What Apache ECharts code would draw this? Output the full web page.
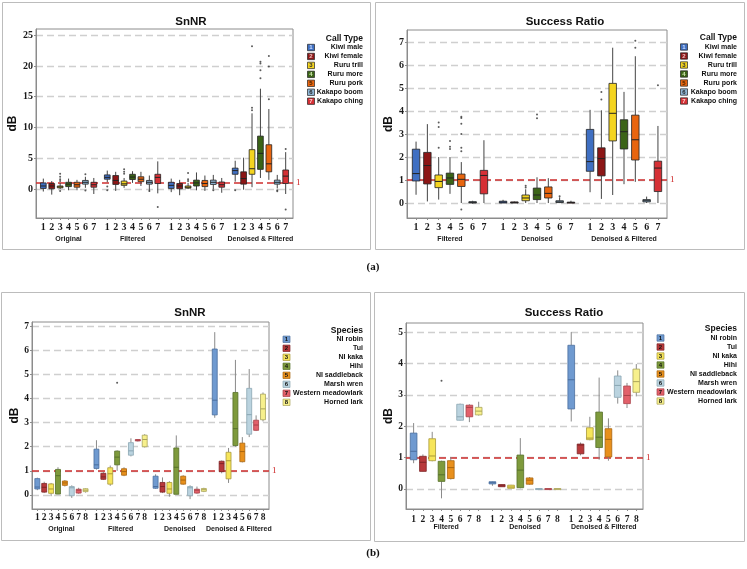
<!DOCTYPE html>
<html><head><meta charset="utf-8">
<script src="https://cdn.jsdelivr.net/npm/echarts@6/dist/echarts.min.js"></script>
<style>html,body{margin:0;padding:0;background:#fff}#c{width:747px;height:569px}</style>
</head><body><div id="c"></div>
<script>
// ---------- categories ----------
const callTypes = ['Kiwi male','Kiwi female','Ruru trill','Ruru more','Ruru pork','Kakapo boom','Kakapo ching'];
const species = ['NI robin','Tui','NI kaka','Hihi','NI saddleback','Marsh wren','Western meadowlark','Horned lark'];
const stagesSnnr = ['Original','Filtered','Denoised','Denoised & Filtered'];
const stagesRatio = ['Filtered','Denoised','Denoised & Filtered'];
const ticksSnnrCall = [0,5,10,15,20,25];
const ticksRatioCall = [0,1,2,3,4,5,6,7];
const ticksSnnrSp = [0,1,2,3,4,5,6,7];
const ticksRatioSp = [0,1,2,3,4,5];
const threshold = 1;

// ---------- values: [min, Q1, median, Q3, max] ----------
const snnrCallOriginal = [
  [-0.4,0.1,0.5,1.0,1.7],[-0.9,0.05,0.5,0.9,1.3],[0.0,0.2,0.35,0.5,1.0],[-0.2,0.4,0.8,1.1,1.7],
  [-0.2,0.3,0.7,1.1,1.5],[0.2,0.8,1.1,1.4,2.0],[-0.8,0.3,0.7,1.1,1.8]];
const snnrCallFiltered = [
  [1.1,1.6,1.9,2.3,3.0],[-0.3,0.75,1.4,2.2,2.8],[0.2,0.6,0.85,1.3,1.8],[1.0,1.55,1.95,2.4,2.9],
  [0.5,1.2,1.6,2.0,2.8],[-0.4,0.8,1.1,1.4,2.2],[-0.7,0.9,1.9,2.4,4.5]];
const snnrCallDenoised = [
  [-0.5,0.1,0.6,1.1,1.7],[-1.0,0.05,0.5,0.9,1.5],[0.0,0.15,0.3,0.5,1.0],[-0.2,0.5,1.0,1.45,2.7],
  [-0.3,0.4,0.9,1.4,2.2],[0.0,0.75,1.1,1.45,2.3],[-0.6,0.3,0.7,1.15,1.8]];
const snnrCallDenoisedFiltered = [
  [1.2,2.4,3.0,3.4,4.6],[-0.1,0.8,1.7,2.8,5.1],[0.3,2.4,3.3,6.4,12.3],[1.8,3.2,5.8,8.6,16.3],
  [1.5,2.8,4.1,7.2,13.0],[0.1,0.8,1.1,1.45,2.3],[-0.8,0.9,2.1,3.1,6.0]];
// outliers: [stage, item, value]
const snnrCallOutliers = [
  [0,2,1.3],[0,2,1.6],[0,2,2.0],[0,2,2.5],[0,2,-0.3],[0,5,2.4],[0,5,-0.25],
  [1,0,-0.2],[1,0,0.4],[1,2,2.5],[1,2,2.8],[1,2,3.2],[1,5,-0.3],[1,6,-2.9],
  [2,2,1.3],[2,2,1.6],[2,2,2.6],[2,5,-0.2],
  [3,0,-0.2],[3,2,12.8],[3,2,13.2],[3,2,23.2],[3,3,18.0],[3,3,19.3],[3,3,20.4],[3,3,20.7],
  [3,4,14.6],[3,4,19.9],[3,4,21.6],[3,5,-0.2],[3,5,-0.35],[3,6,6.5],[3,6,-3.3]];

const ratioCallFiltered = [
  [0.36,0.96,1.28,2.34,2.67],[0.07,0.83,1.63,2.2,3.43],[0.15,0.67,0.94,1.22,2.0],[0.4,0.81,1.09,1.3,2.0],
  [0.0,0.72,1.03,1.26,1.78],[-0.03,0.0,0.03,0.06,0.1],[0.0,0.4,1.2,1.42,2.73]];
const ratioCallDenoised = [
  [0.0,0.0,0.04,0.08,0.14],[0.0,0.0,0.02,0.05,0.07],[0.0,0.1,0.22,0.35,0.6],[0.0,0.15,0.35,0.65,1.12],
  [0.0,0.22,0.42,0.7,1.08],[0.0,0.02,0.05,0.1,0.25],[0.0,0.0,0.02,0.04,0.1]];
const ratioCallDenoisedFiltered = [
  [0.47,1.38,1.8,3.2,4.05],[0.18,1.18,1.93,2.4,4.03],[0.35,2.7,3.9,5.2,6.75],[0.82,2.35,3.1,3.62,4.83],
  [0.92,1.87,2.75,3.82,6.38],[0.0,0.05,0.1,0.15,0.28],[0.0,0.5,1.52,1.82,3.35]];
const ratioCallOutliers = [
  [0,2,2.4],[0,2,3.3],[0,2,3.5],[0,3,2.35],[0,3,2.45],[0,3,2.7],
  [0,4,2.25],[0,4,2.4],[0,4,3.0],[0,4,3.45],[0,4,3.7],[0,4,3.75],[0,4,-0.28],
  [1,2,0.68],[1,2,0.75],[1,3,3.68],[1,3,3.85],[1,5,0.3],
  [2,1,4.5],[2,1,4.83],[2,4,6.75],[2,4,7.05],[2,6,5.12]];

const snnrSpOriginal = [
  [0.2,0.25,0.33,0.68,0.72],[0.08,0.12,0.32,0.48,0.55],[-0.05,0.07,0.25,0.46,0.5],[0.03,0.04,0.8,1.06,1.15],
  [0.35,0.4,0.5,0.58,0.62],[-0.12,-0.03,0.3,0.35,0.4],[0.05,0.08,0.2,0.24,0.3],[0.1,0.14,0.2,0.26,0.28]];
const snnrSpFiltered = [
  [1.05,1.1,1.25,1.9,2.27],[0.62,0.65,0.75,0.9,0.95],[0.38,0.45,0.88,1.13,1.22],[1.0,1.25,1.57,1.82,1.85],
  [0.78,0.82,0.97,1.09,1.15],[1.6,1.65,1.83,2.17,2.35],[2.22,2.24,2.27,2.3,2.31],[1.97,2.0,2.3,2.48,2.52]];
const snnrSpDenoised = [
  [0.25,0.28,0.35,0.78,0.86],[0.08,0.12,0.35,0.52,0.73],[-0.07,0.07,0.25,0.52,0.57],[0.02,0.03,1.15,1.95,2.47],
  [0.42,0.45,0.62,0.78,0.82],[-0.17,-0.03,0.3,0.35,0.4],[0.05,0.08,0.2,0.24,0.35],[0.12,0.15,0.22,0.27,0.3]];
const snnrSpDenoisedFiltered = [
  [3.2,3.32,3.93,6.05,6.75],[0.9,0.97,1.3,1.4,1.43],[0.5,0.67,1.42,1.77,1.95],[2.0,2.05,2.75,4.25,5.6],
  [1.35,1.38,1.8,2.15,2.4],[2.4,2.52,3.33,4.42,5.22],[2.65,2.68,2.9,3.1,3.3],[3.05,3.12,3.57,4.18,4.25]];
const snnrSpOutliers = [[1,3,4.65]];

const ratioSpFiltered = [
  [0.82,0.93,1.2,1.78,2.1],[0.55,0.56,0.85,1.04,1.1],[0.88,0.9,1.05,1.6,1.82],[-0.3,0.24,0.45,0.88,0.9],
  [0.3,0.33,0.68,0.9,1.02],[2.18,2.19,2.3,2.7,2.72],[2.13,2.3,2.6,2.67,2.7],[2.34,2.36,2.48,2.6,2.78]];
const ratioSpDenoised = [
  [0.1,0.16,0.2,0.23,0.24],[0.07,0.07,0.1,0.14,0.15],[0.02,0.02,0.06,0.12,0.13],[0.02,0.04,0.6,1.08,1.62],
  [0.13,0.15,0.28,0.35,0.38],[0,0,0,0.01,0.01],[0,0,0,0.01,0.01],[0,0,0,0.01,0.01]];
const ratioSpDenoisedFiltered = [
  [2.15,2.55,3.48,4.58,5.0],[1.07,1.12,1.4,1.43,1.48],[1.55,1.57,1.62,1.95,2.3],[0.93,1.32,1.65,2.45,3.55],
  [0.9,1.02,1.58,1.92,2.25],[2.72,2.92,3.3,3.6,3.78],[2.58,2.72,2.98,3.28,3.38],[2.95,3.08,3.42,3.82,3.98]];
const ratioSpOutliers = [[0,3,3.45]];

// ---------- styles ----------
const callColors = ['#3f6fc2','#8c1616','#f4d41f','#3b6417','#e8650f','#8fb6d6','#d63035'];
const callBorders = ['#222','#222','#222','#222','#222','#222','#222'];
const callNumColors = ['#cfe0ff','#f0c0c0','#333','#d0e8b0','#402000','#222','#ffd0d0'];
const spColors = ['#6f9ad0','#b8393b','#f6e55a','#7e9a3c','#e8901c','#bad3df','#e2606a','#f7f08c'];
const spBorders = ['#4a6e9e','#7e2426','#a8983a','#55702a','#a8650f','#8aa6b3','#a84048','#aaa45a'];
const FONT_SANS = '"Liberation Sans", Arial, sans-serif';
const FONT_SERIF = '"Liberation Serif", "Times New Roman", serif';

const panels = [
  { title:'SnNR', names:callTypes, colors:callColors, borders:callBorders, medians:callBorders, numColors:callNumColors,
    whisker:'#444', stages:stagesSnnr, sets:[snnrCallOriginal,snnrCallFiltered,snnrCallDenoised,snnrCallDenoisedFiltered],
    outliers:snnrCallOutliers, ticks:ticksSnnrCall, yMin:-4.7, yMax:26, step:7.6, xMin:-0.87, xMax:29.67,
    grid:{left:36,top:29,width:257,height:189}, frame:[2.5,2.5,368,247], titleX:186, titleTop:11, nameGap:16,
    legendTitle:'Call Type', lg:{sw:307.5, right:363, titleY:39, y0:47.5, gap:8.95}, boxFrac:0.68,
    lab:{margin:3.5, n:11, g:13, e:11, fs:10} },
  { title:'Success Ratio', names:callTypes, colors:callColors, borders:callBorders, medians:callBorders, numColors:callNumColors,
    whisker:'#444', stages:stagesRatio, sets:[ratioCallFiltered,ratioCallDenoised,ratioCallDenoisedFiltered],
    outliers:ratioCallOutliers, ticks:ticksRatioCall, yMin:-0.65, yMax:7.52, step:7.69, xMin:-0.8, xMax:22.18,
    grid:{left:407,top:30,width:260,height:188}, frame:[375.5,2.5,369,247], titleX:560, titleTop:10.5, nameGap:11,
    legendTitle:'Call Type', lg:{sw:680.5, right:737, titleY:38, y0:47, gap:9}, boxFrac:0.66,
    lab:{margin:3.5, n:11, g:13, e:11, fs:10} },
  { title:'SnNR', names:species, colors:spColors, borders:spBorders, medians:spBorders, numColors:null,
    whisker:'#8a8a8a', stages:stagesSnnr, sets:[snnrSpOriginal,snnrSpFiltered,snnrSpDenoised,snnrSpDenoisedFiltered],
    outliers:snnrSpOutliers, ticks:ticksSnnrSp, yMin:-0.58, yMax:7.17, step:8.58, xMin:-0.77, xMax:33.61,
    grid:{left:32,top:322,width:237,height:187}, frame:[1.5,292.5,369,248], titleX:185, titleTop:302, nameGap:11,
    legendTitle:'Species', lg:{sw:283, right:363, titleY:330.7, y0:339.3, gap:9}, boxFrac:0.72,
    lab:{margin:3, n:11, g:12, e:11, fs:9.5} },
  { title:'Success Ratio', names:species, colors:spColors, borders:spBorders, medians:spBorders, numColors:null,
    whisker:'#8a8a8a', stages:stagesRatio, sets:[ratioSpFiltered,ratioSpDenoised,ratioSpDenoisedFiltered],
    outliers:ratioSpOutliers, ticks:ticksRatioSp, yMin:-0.64, yMax:5.29, step:8.48, xMin:-0.82, xMax:24.68,
    grid:{left:406,top:323,width:237,height:186}, frame:[374.5,292.5,370,249], titleX:559, titleTop:301.5, nameGap:11,
    legendTitle:'Species', lg:{sw:657, right:737, titleY:329, y0:338, gap:9}, boxFrac:0.72,
    lab:{margin:5, n:11, g:11, e:8, fs:9.5} }
];

const key = v => (Math.round(v * 1000) / 1000).toFixed(3);

const grids = [], xAxes = [], yAxes = [], series = [], titles = [], graphics = [];

panels.forEach((p, k) => {
  const nItems = p.names.length;
  const center = (nItems - 1) / 2;
  const itemPos = [], labelPos = [], labelMap = {};
  const boxData = [];
  p.sets.forEach((set, s) => {
    set.forEach((v, i) => {
      const x = s * p.step + i;
      itemPos.push(x);
      boxData.push([x, v[0], v[1], v[2], v[3], v[4], i]);
    });
  });
  p.stages.forEach((st, s) => {
    if (center % 1 !== 0) {
      const xc = s * p.step + center;
      labelPos.push(xc);
      labelMap[key(xc)] = '{e| }\n{g|' + st + '}';
    }
    for (let i = 0; i < nItems; i++) {
      const x = s * p.step + i;
      labelPos.push(x);
      labelMap[key(x)] = (i === center) ? '{n|' + (i + 1) + '}\n{g|' + st + '}' : '{n|' + (i + 1) + '}';
    }
  });
  const outData = p.outliers.map(o => [o[0] * p.step + o[1], o[2]]);

  grids.push(Object.assign({ show:true, borderColor:'#8c8c8c', borderWidth:1, containLabel:false, outerBoundsMode:'none' }, p.grid));
  xAxes.push({
    type:'value', gridIndex:k, min:p.xMin, max:p.xMax,
    axisLine:{ show:true, onZero:false, lineStyle:{ color:'#8c8c8c', width:1 } },
    axisTick:{ show:true, length:2, customValues:itemPos, lineStyle:{ color:'#8c8c8c' } },
    splitLine:{ show:false },
    axisLabel:{
      customValues:labelPos, margin:p.lab.margin, formatter:v => labelMap[key(v)] || '',
      showMinLabel:true, showMaxLabel:true, hideOverlap:false,
      rich:{
        n:{ fontFamily:FONT_SERIF, fontWeight:'bold', fontSize:p.lab.fs, lineHeight:p.lab.n, color:'#1a1a1a' },
        e:{ fontSize:p.lab.fs, lineHeight:p.lab.e },
        g:{ fontFamily:FONT_SANS, fontWeight:'bold', fontSize:7, lineHeight:p.lab.g, color:'#1a1a1a' }
      }
    }
  });
  yAxes.push({
    type:'value', gridIndex:k, min:p.yMin, max:p.yMax,
    name:'dB', nameLocation:'middle', nameGap:p.nameGap,
    nameTextStyle:{ fontFamily:FONT_SANS, fontWeight:'bold', fontSize:12, color:'#111' },
    axisLine:{ show:true, onZero:false, lineStyle:{ color:'#8c8c8c', width:1 } },
    axisTick:{ show:true, length:2, customValues:p.ticks, lineStyle:{ color:'#8c8c8c' } },
    axisLabel:{ customValues:p.ticks, margin:3, fontFamily:FONT_SERIF, fontWeight:'bold', fontSize:p.lab.fs, color:'#1a1a1a',
      showMinLabel:true, showMaxLabel:true },
    splitLine:{ show:true, lineStyle:{ color:'#cfcfcf', width:1.3, type:[7,4] } }
  });
  titles.push({ text:p.title, left:p.titleX, top:p.titleTop, textAlign:'center',
    textStyle:{ fontFamily:FONT_SANS, fontWeight:'bold', fontSize:11.5, color:'#111' } });

  series.push({
    type:'scatter', xAxisIndex:k, yAxisIndex:k, data:outData, symbolSize:2, z:2,
    itemStyle:{ color:'#333' }, silent:true,
    markLine:{ silent:true, symbol:'none', z:2, data:[{ yAxis:threshold }],
      lineStyle:{ color:'#cf2f2f', width:1.5, type:[7,4] },
      label:{ show:true, position:'end', distance:3, formatter:'1', color:'#cc2222', fontFamily:FONT_SERIF, fontSize:9 } }
  });
  series.push({
    type:'custom', xAxisIndex:k, yAxisIndex:k, z:3, data:boxData,
    dimensions:['x','min','q1','median','q3','max','idx'],
    encode:{ x:0, y:[1,2,3,4,5] },
    renderItem:function (params, api) {
      const x = api.value(0), idx = api.value(6);
      const pMin = api.coord([x, api.value(1)]);
      const pQ1 = api.coord([x, api.value(2)]);
      const pMed = api.coord([x, api.value(3)]);
      const pQ3 = api.coord([x, api.value(4)]);
      const pMax = api.coord([x, api.value(5)]);
      const w = api.size([1, 0])[0] * p.boxFrac;
      const cx = pMin[0];
      return { type:'group', children:[
        { type:'line', shape:{ x1:cx, y1:pMax[1], x2:cx, y2:pQ3[1] }, style:{ stroke:p.whisker, lineWidth:1 } },
        { type:'line', shape:{ x1:cx, y1:pQ1[1], x2:cx, y2:pMin[1] }, style:{ stroke:p.whisker, lineWidth:1 } },
        { type:'rect', shape:{ x:cx - w / 2, y:pQ3[1], width:w, height:Math.max(pQ1[1] - pQ3[1], 1) },
          style:{ fill:p.colors[idx], stroke:p.borders[idx], lineWidth:0.8 } },
        { type:'line', shape:{ x1:cx - w / 2, y1:pMed[1], x2:cx + w / 2, y2:pMed[1] },
          style:{ stroke:p.medians[idx], lineWidth:1 } }
      ]};
    }
  });

  // panel frame
  graphics.push({ type:'rect', silent:true, z:-1, shape:{ x:p.frame[0], y:p.frame[1], width:p.frame[2], height:p.frame[3] },
    style:{ fill:null, stroke:'#bcbcbc', lineWidth:1 } });
  // legend
  graphics.push({ type:'text', silent:true, x:p.lg.right, y:p.lg.titleY,
    style:{ text:p.legendTitle, align:'right', verticalAlign:'middle', font:'bold 8.5px ' + FONT_SANS, fill:'#111' } });
  p.names.forEach((nm, i) => {
    const cy = p.lg.y0 + i * p.lg.gap;
    graphics.push({ type:'rect', silent:true, shape:{ x:p.lg.sw, y:cy - 3.2, width:7, height:6.4 },
      style:{ fill:p.colors[i], stroke:p.borders[i], lineWidth:0.7 } });
    graphics.push({ type:'text', silent:true, x:p.lg.sw + 3.5, y:cy + 0.3,
      style:{ text:String(i + 1), align:'center', verticalAlign:'middle', font:'bold 6px ' + FONT_SANS,
        fill:p.numColors ? p.numColors[i] : '#111' } });
    graphics.push({ type:'text', silent:true, x:p.lg.right, y:cy,
      style:{ text:nm, align:'right', verticalAlign:'middle', font:'bold 7px ' + FONT_SANS, fill:'#111' } });
  });
});

graphics.push({ type:'text', silent:true, x:373, y:267, style:{ text:'(a)', align:'center', verticalAlign:'middle', font:'bold 11px ' + FONT_SERIF, fill:'#111' } });
graphics.push({ type:'text', silent:true, x:373, y:553, style:{ text:'(b)', align:'center', verticalAlign:'middle', font:'bold 11px ' + FONT_SERIF, fill:'#111' } });

const chart = echarts.init(document.getElementById('c'), null, { renderer:'canvas' });
chart.setOption({
  backgroundColor:'#ffffff', animation:false,
  title:titles, grid:grids, xAxis:xAxes, yAxis:yAxes, series:series, graphic:graphics
});
</script>
</body></html>
